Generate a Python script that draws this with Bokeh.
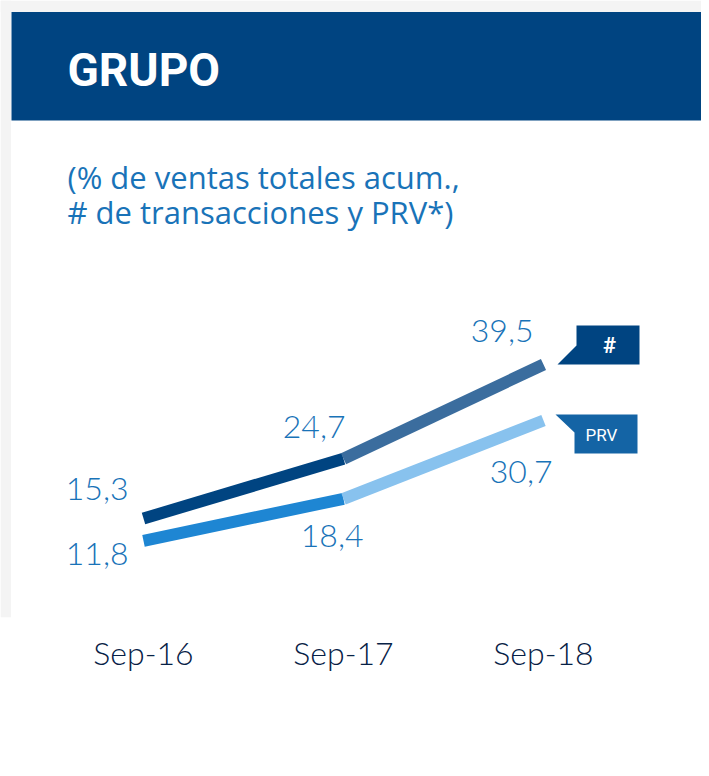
from bokeh.plotting import figure
from bokeh.models import Range1d, BoxAnnotation, Label, FixedTicker
from bokeh.core.properties import value
from bokeh.embed import file_html
from bokeh.resources import INLINE

# ---- data ----
periods = ["Sep-16", "Sep-17", "Sep-18"]
transacciones = [15.3, 24.7, 39.5]   # "#"
prv = [11.8, 18.4, 30.7]             # "PRV"
title_text = "GRUPO"
subtitle_lines = ["(% de ventas totales acum.,", "# de transacciones y PRV*)"]
series_tags = ["#", "PRV"]

# ---- canvas / scale helpers (canvas pixels -> data units) ----
W, H = 701, 768
BOTTOM_BORDER = 151
PX_X = 200.0
X0 = 143.0
PX_Y = 6.364
Y0 = 615.4


def dx(px):
    return (px - X0) / PX_X


def dy(py):
    return (Y0 - py) / PX_Y


xs = list(range(len(periods)))

p = figure(width=W, height=H, output_backend="svg", toolbar_location=None,
           x_range=Range1d(dx(0), dx(W)), y_range=Range1d(dy(H - BOTTOM_BORDER), dy(0)),
           min_border_left=0, min_border_right=0, min_border_top=0, min_border_bottom=BOTTOM_BORDER)
p.yaxis.visible = False
p.grid.visible = False
p.outline_line_color = None
p.background_fill_color = "white"
p.border_fill_color = "white"

# x axis with period labels
ax = p.xaxis[0]
ax.ticker = FixedTicker(ticks=xs)
ax.major_label_overrides = {i: s for i, s in zip(xs, periods)}
ax.axis_line_color = None
ax.major_tick_line_color = None
ax.minor_tick_line_color = None
ax.major_label_text_font = "Lato Light"
ax.major_label_text_font_size = "32px"
ax.major_label_text_color = "#072146"
ax.major_label_standoff = 9

# page decoration: grey margins + header band
p.add_layout(BoxAnnotation(right=dx(10.5), fill_color="#f4f4f4", fill_alpha=1, line_color=None, level="underlay"))
p.add_layout(BoxAnnotation(bottom=dy(11.5), fill_color="#f4f4f4", fill_alpha=1, line_color=None, level="underlay"))
p.add_layout(BoxAnnotation(left=dx(11), bottom=dy(120), top=dy(11.5), fill_color="#004481", fill_alpha=1,
                           line_color=None, level="underlay"))

p.add_layout(Label(x=dx(67), y=dy(69), text=title_text, text_color="white", text_font="Roboto",
                   text_font_style="bold", text_font_size="46px", text_baseline="middle"))
for i, line in enumerate(subtitle_lines):
    p.add_layout(Label(x=dx(67), y=dy(176 + 35 * i), text=line, text_color="#1973B8", text_font="Open Sans",
                       text_font_size="31px", text_baseline="middle"))

# lines (two segments each, different shades)
p.segment(x0=xs[:-1], y0=transacciones[:-1], x1=xs[1:], y1=transacciones[1:],
          line_color=["#004481", "#3B6D9E"], line_width=12, line_cap="butt")
p.segment(x0=xs[:-1], y0=prv[:-1], x1=xs[1:], y1=prv[1:],
          line_color=["#1E86D3", "#88C2EE"], line_width=12, line_cap="butt")


def fmt(v):
    return f"{v:.1f}".replace(".", ",")


label_style = dict(text_align="right", text_baseline="middle", text_font=value("Lato Light"),
                   text_font_size="32px", text_color="#1973B8")
p.text(x=xs, y=transacciones, text=[fmt(v) for v in transacciones],
       x_offset=[-15, 2, -10], y_offset=[-30, -32, -34], **label_style)
p.text(x=xs, y=prv, text=[fmt(v) for v in prv],
       x_offset=[-15, 20, 9], y_offset=[13, 37, 51], **label_style)

# callout tags anchored at the series end points
xe = xs[-1]
t_end = transacciones[-1]
tag1_dx = [33, 96, 96, 14, 33]
tag1_dy = [-39, -39, 0, 0, -19]
p.patch(x=[xe + d / PX_X for d in tag1_dx], y=[t_end - d / PX_Y for d in tag1_dy],
        fill_color="#004481", line_color=None)
p.text(x=[xe], y=[t_end], text=[series_tags[0]], x_offset=66, y_offset=-19, text_align="center",
       text_baseline="middle", text_font=value("Roboto"), text_font_style="bold",
       text_font_size="22px", text_color="white")

p_end = prv[-1]
tag2_dx = [12, 94, 94, 31, 31]
tag2_dy = [-6, -6, 33, 33, 12]
p.patch(x=[xe + d / PX_X for d in tag2_dx], y=[p_end - d / PX_Y for d in tag2_dy],
        fill_color="#1464A5", line_color=None)
p.text(x=[xe], y=[p_end], text=[series_tags[1]], x_offset=58, y_offset=14, text_align="center",
       text_baseline="middle", text_font=value("Roboto"), text_font_size="17px", text_color="white")

open("out.html", "w").write(file_html(p, INLINE))
